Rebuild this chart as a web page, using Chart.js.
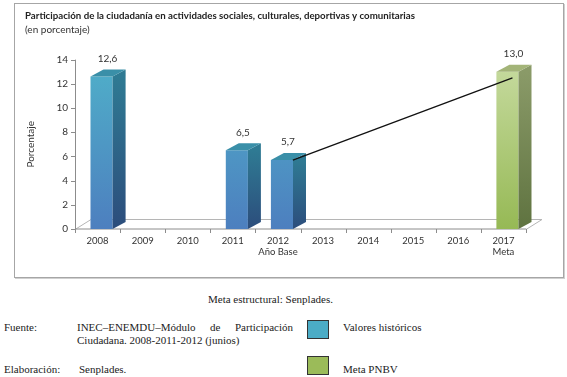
<!DOCTYPE html>
<html>
<head>
<meta charset="utf-8">
<script src="https://cdn.jsdelivr.net/npm/chart.js@4"></script>
<style>
  body { margin: 0; width: 567px; height: 377px; background: #fff; position: relative; overflow: hidden; }
  #frame { position: absolute; left: 14px; top: 3px; width: 548px; height: 273px; border: 1px solid #a6a6a6; box-shadow: 1px 1px 0 #d0d0d0; }
  #wrap { position: absolute; left: 0; top: 0; width: 567px; height: 280px; }
  .ft { position: absolute; font-family: "Liberation Serif", serif; font-size: 11px; color: #222; white-space: nowrap; }
  .just { text-align: justify; text-align-last: justify; white-space: normal; }
  .sw { position: absolute; width: 20px; height: 17px; border: 1px solid #333; }
</style>
</head>
<body>
<div id="frame"></div>
<div id="wrap"><canvas id="chart" width="567" height="280"></canvas></div>

<div class="ft" style="left:208px; top:293px;">Meta estructural: Senplades.</div>
<div class="ft" style="left:4px; top:321px;">Fuente:</div>
<div class="ft just" style="left:77px; top:321px; width:216px;">INEC–ENEMDU–Módulo de Participación</div>
<div class="ft" style="left:77px; top:334px;">Ciudadana. 2008-2011-2012 (junios)</div>
<div class="sw" style="left:307px; top:320px; background:#4bacc6;"></div>
<div class="ft" style="left:343px; top:321px;">Valores históricos</div>
<div class="ft" style="left:4px; top:363px;">Elaboración:</div>
<div class="ft" style="left:79px; top:363px;">Senplades.</div>
<div class="sw" style="left:307px; top:356px; background:#9bbb59;"></div>
<div class="ft" style="left:343px; top:363px;">Meta PNBV</div>

<script>
// data
const years = ['2008', '2009', '2010', '2011', ['2012', 'Año Base'], '2013', '2014', '2015', '2016', ['2017', 'Meta']];
const historicos = [12.6, null, null, 6.5, 5.7, null, null, null, null, null];
const meta = [null, null, null, null, null, null, null, null, null, 13.0];
const tendencia = [{ x: 4.33, y: 5.7 }, { x: 9.2, y: 12.5 }];

// one bar per year, green where it is the goal
const valores = historicos.map((v, i) => v != null ? v : meta[i]);
const isMeta = i => meta[i] != null;

const DX = 13, DY = -7;   // bar depth
const FDX = 16, FDY = -10; // floor depth
const SHIFT = 4;

const BLUE = { front: ['#4fb0c9', '#4d7fbf'], side: ['#2f7a93', '#2c4d7c'], top: '#3a8fa8' };
const GREEN = { front: ['#c7dba0', '#96b955'], side: ['#8a9a68', '#5f7340'], top: '#a3b478' };

function fmt(v) { return v.toFixed(1).replace('.', ','); }

const FONT = 'Lato, "Open Sans", sans-serif';

const bars3d = {
  id: 'bars3d',
  beforeDatasetsDraw(chart) {
    const { ctx, chartArea: a } = chart;
    const y = chart.scales.y;
    const b = y.getPixelForValue(0);
    ctx.save();
    ctx.strokeStyle = '#b5b5b5';
    ctx.lineWidth = 1;
    // floor
    ctx.beginPath();
    ctx.moveTo(a.left, b + 0.5);
    ctx.lineTo(a.left + FDX, b + FDY + 0.5);
    ctx.lineTo(a.right + FDX, b + FDY + 0.5);
    ctx.lineTo(a.right, b + 0.5);
    ctx.stroke();
    // axes
    ctx.strokeStyle = '#8c8c8c';
    ctx.beginPath();
    ctx.moveTo(a.left + 0.5, a.top);
    ctx.lineTo(a.left + 0.5, b);
    ctx.lineTo(a.right, b);
    y.ticks.forEach(t => {
      const py = Math.round(y.getPixelForValue(t.value)) + 0.5;
      ctx.moveTo(a.left - 4, py);
      ctx.lineTo(a.left, py);
    });
    for (let i = 0; i <= years.length; i++) {
      const px = Math.round(a.left + i * (a.right - a.left) / years.length) + 0.5;
      ctx.moveTo(px, b);
      ctx.lineTo(px, b + 4);
    }
    ctx.stroke();
    ctx.restore();
  },
  beforeDatasetDraw(chart, args) {
    if (chart.data.datasets[args.index].type === 'line') return;
    chart.ctx.save();
    chart.ctx.translate(SHIFT, 0);
  },
  afterDatasetDraw(chart, args) {
    const ds = chart.data.datasets[args.index];
    if (ds.type === 'line') return;
    const ctx = chart.ctx;
    args.meta.data.forEach((el, i) => {
      if (ds.data[i] == null) return;
      const pal = isMeta(i) ? GREEN : BLUE;
      const p = el.getProps(['x', 'y', 'base', 'width'], true);
      const l = p.x - p.width / 2, r = p.x + p.width / 2;
      // side face
      let g = ctx.createLinearGradient(0, p.y, 0, p.base);
      g.addColorStop(0, pal.side[0]);
      g.addColorStop(1, pal.side[1]);
      ctx.fillStyle = g;
      ctx.beginPath();
      ctx.moveTo(r, p.y);
      ctx.lineTo(r + DX, p.y + DY);
      ctx.lineTo(r + DX, p.base + DY);
      ctx.lineTo(r, p.base);
      ctx.closePath();
      ctx.fill();
      // top face
      ctx.fillStyle = pal.top;
      ctx.beginPath();
      ctx.moveTo(l, p.y);
      ctx.lineTo(l + DX, p.y + DY);
      ctx.lineTo(r + DX, p.y + DY);
      ctx.lineTo(r, p.y);
      ctx.closePath();
      ctx.fill();
      // value label
      ctx.fillStyle = '#333';
      ctx.font = '10px ' + FONT;
      ctx.textAlign = 'center';
      ctx.textBaseline = 'middle';
      ctx.fillText(fmt(ds.data[i]), p.x + 6, p.y - 18);
    });
    ctx.restore();
  }
};

new Chart(document.getElementById('chart'), {
  data: {
    labels: years,
    datasets: [
      {
        type: 'line',
        data: tendencia,
        xAxisID: 'xl',
        borderColor: '#111',
        borderWidth: 1.3,
        pointRadius: 0,
        order: 0
      },
      {
        type: 'bar',
        data: valores,
        xAxisID: 'x',
        backgroundColor(c) {
          const pal = isMeta(c.dataIndex) ? GREEN : BLUE;
          const ch = c.chart;
          if (!ch.chartArea) return pal.front[1];
          const g = ch.ctx.createLinearGradient(0, ch.chartArea.top, 0, ch.chartArea.bottom);
          g.addColorStop(0, pal.front[0]);
          g.addColorStop(1, pal.front[1]);
          return g;
        },
        grouped: false,
        barPercentage: 0.49,
        categoryPercentage: 1,
        order: 1
      }
    ]
  },
  options: {
    responsive: false,
    animation: false,
    layout: { padding: { left: 25, right: 41, top: 0, bottom: 11 } },
    plugins: {
      legend: { display: false },
      tooltip: { enabled: false },
      title: {
        display: true,
        align: 'start',
        text: 'Participación de la ciudadanía en actividades sociales, culturales, deportivas y comunitarias',
        color: '#222',
        font: { family: FONT, size: 9.7, weight: 'bold' },
        padding: { top: 10, bottom: 1 }
      },
      subtitle: {
        display: true,
        align: 'start',
        text: '(en porcentaje)',
        color: '#333',
        font: { family: FONT, size: 10 },
        padding: { top: 1, bottom: 24 }
      }
    },
    scales: {
      x: {
        type: 'category',
        grid: { display: false, drawTicks: false },
        border: { display: false },
        ticks: { color: '#333', font: { family: FONT, size: 9.5 }, padding: 6, maxRotation: 0, autoSkip: false },
        afterFit(s) { s.height = 40; }
      },
      xl: {
        type: 'linear',
        axis: 'x',
        display: false,
        min: -0.5,
        max: 9.5
      },
      y: {
        min: 0,
        max: 14,
        grid: { display: false, drawTicks: false },
        border: { display: false },
        ticks: { stepSize: 2, color: '#333', font: { family: FONT, size: 10 }, padding: 7 },
        title: { display: true, text: 'Porcentaje', color: '#333', font: { family: FONT, size: 10 }, padding: 0 },
        afterFit(s) { s.width = 50; }
      }
    }
  },
  plugins: [bars3d]
});
</script>
</body>
</html>
